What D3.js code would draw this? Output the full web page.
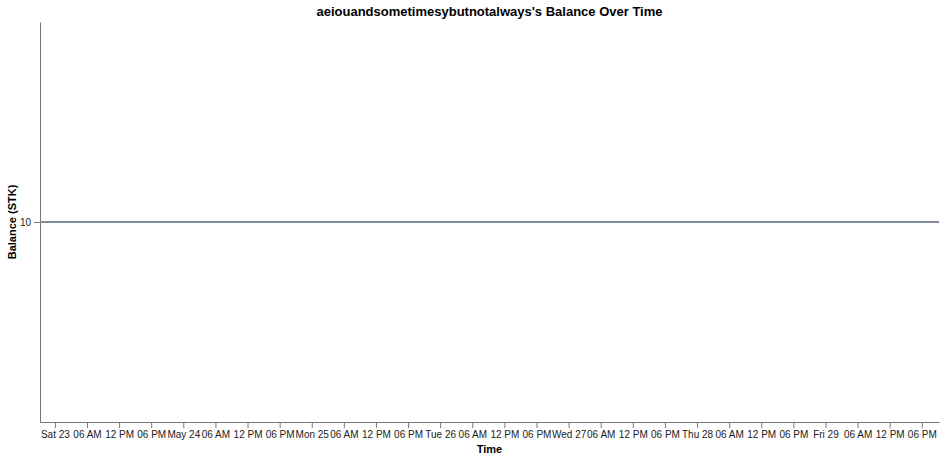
<!DOCTYPE html>
<html>
<head>
<meta charset="utf-8">
<script src="https://cdn.jsdelivr.net/npm/d3@7"></script>
<style>
  body { margin: 0; background: #fff; }
  svg { display: block; font-family: "Liberation Sans", Arial, sans-serif; }
  .axis text { font-size: 10px; fill: #222; }
  .axis path, .axis line { stroke: #777; }
  .title { font-size: 13px; font-weight: bold; }
  .axis-title { font-size: 11px; font-weight: bold; }
</style>
</head>
<body>
<svg id="chart"></svg>
<script>
// balance samples (constant), last 7 days
const account = "aeiouandsometimesybutnotalways";
const unit = "STK";
const times = [
  new Date(2020, 4, 22, 21, 13),
  new Date(2020, 4, 29, 21, 13)
];
const balances = [10, 10];

const data = times.map((t, i) => ({ time: t, balance: balances[i] }));

const containerWidth = 946, containerHeight = 459;
const margin = { top: 22, right: 7, bottom: 37, left: 40 };
const width = containerWidth - margin.left - margin.right;
const height = containerHeight - margin.top - margin.bottom;

const svg = d3.select('#chart')
  .attr('width', containerWidth)
  .attr('height', containerHeight);

const chart = svg.append('g')
  .attr('transform', `translate(${margin.left},${margin.top})`);

const xScale = d3.scaleTime()
  .domain(d3.extent(data, d => d.time))
  .range([0, width]);

const yScale = d3.scaleLinear()
  .domain(d3.extent(data, d => d.balance))
  .range([height, 0]);

chart.append('g')
  .attr('class', 'axis')
  .attr('transform', `translate(0,${height})`)
  .call(d3.axisBottom(xScale).ticks(d3.timeHour.every(6)).tickSizeOuter(0));

chart.append('g')
  .attr('class', 'axis')
  .call(d3.axisLeft(yScale).tickSizeOuter(0));

chart.selectAll('.axis .domain').attr('stroke', '#777');

const line = d3.line()
  .x(d => xScale(d.time))
  .y(d => yScale(d.balance));

chart.append('path')
  .datum(data)
  .attr('fill', 'none')
  .attr('stroke', '#828c9b')
  .attr('stroke-width', 2)
  .attr('d', line);

svg.append('text')
  .attr('class', 'title')
  .attr('x', margin.left + width / 2)
  .attr('y', 16)
  .style('text-anchor', 'middle')
  .text(`${account}'s Balance Over Time`);

svg.append('text')
  .attr('class', 'axis-title')
  .attr('x', margin.left + width / 2)
  .attr('y', 453)
  .style('text-anchor', 'middle')
  .text('Time');

svg.append('text')
  .attr('class', 'axis-title')
  .attr('transform', 'rotate(-90)')
  .attr('x', -(margin.top + height / 2))
  .attr('y', 16)
  .style('text-anchor', 'middle')
  .text(`Balance (${unit})`);
</script>
</body>
</html>
